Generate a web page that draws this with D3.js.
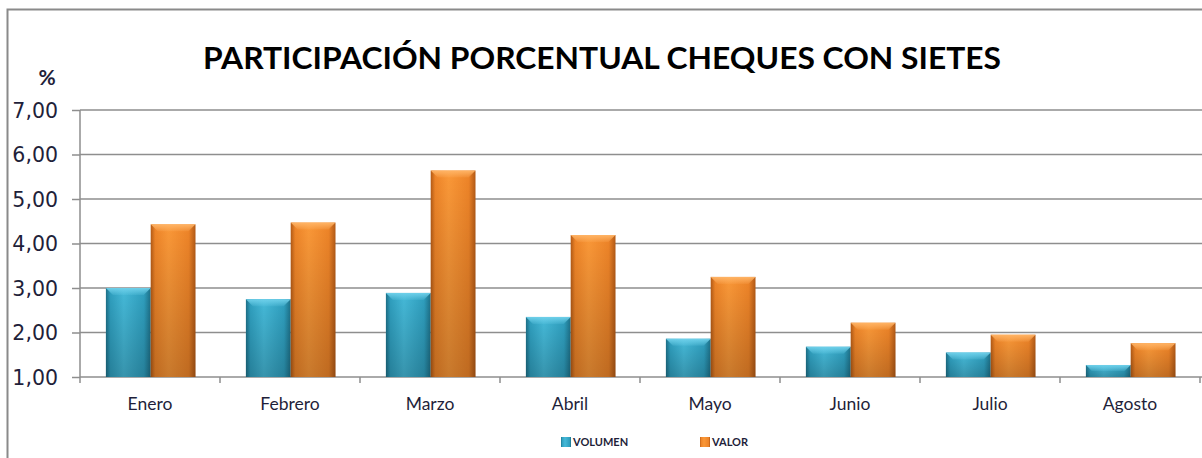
<!DOCTYPE html>
<html lang="es">
<head>
<meta charset="UTF-8">
<title>Participación porcentual cheques con sietes</title>
<script src="https://d3js.org/d3.v7.min.js"></script>
<style>
    body { margin: 0; background: #fff; }
    svg { display: block; }
</style>
</head>
<body>
<svg width="1202" height="458"></svg>
<script>
    // data
    const months = ["Enero", "Febrero", "Marzo", "Abril", "Mayo", "Junio", "Julio", "Agosto"];
    const series = ["VOLUMEN", "VALOR"];
    const volumen = [3.00, 2.75, 2.89, 2.35, 1.86, 1.68, 1.55, 1.27];
    const valor = [4.43, 4.47, 5.64, 4.19, 3.25, 2.22, 1.95, 1.76];
    const yTicks = [1, 2, 3, 4, 5, 6, 7];

    const rows = months.map((m, i) => ({ month: m, VOLUMEN: volumen[i], VALOR: valor[i] }));

    const svg = d3.select("svg");
    const W = 1202, H = 458;
    const plot = { left: 80, right: 1200, top: 110, bottom: 377 };

    const colors = {
        VOLUMEN: { light: "#45b9d8", mid: "#2f9fbf", dark: "#1d7088", top: "#6fd0ea" },
        VALOR: { light: "#fa9838", mid: "#ee8428", dark: "#b35a16", top: "#ffb466" }
    };

    // gradients
    const defs = svg.append("defs");
    series.forEach(s => {
        const c = colors[s];
        const h = defs.append("linearGradient").attr("id", "h-" + s)
            .attr("x1", 0).attr("x2", 1).attr("y1", 0).attr("y2", 0);
        h.append("stop").attr("offset", "0%").attr("stop-color", c.dark);
        h.append("stop").attr("offset", "10%").attr("stop-color", c.mid);
        h.append("stop").attr("offset", "40%").attr("stop-color", c.light);
        h.append("stop").attr("offset", "85%").attr("stop-color", c.mid);
        h.append("stop").attr("offset", "100%").attr("stop-color", c.dark);
        const v = defs.append("linearGradient").attr("id", "v-" + s)
            .attr("x1", 0).attr("x2", 0).attr("y1", 0).attr("y2", 1);
        v.append("stop").attr("offset", "0%").attr("stop-color", "#000").attr("stop-opacity", 0);
        v.append("stop").attr("offset", "100%").attr("stop-color", "#000").attr("stop-opacity", 0.2);
        const t = defs.append("linearGradient").attr("id", "t-" + s)
            .attr("x1", 0).attr("x2", 0).attr("y1", 0).attr("y2", 1);
        t.append("stop").attr("offset", "0%").attr("stop-color", c.top).attr("stop-opacity", 1);
        t.append("stop").attr("offset", "100%").attr("stop-color", c.top).attr("stop-opacity", 0.15);
    });

    // frame
    svg.append("path")
        .attr("d", `M7.5,${H} V9.5 H${W}`)
        .attr("fill", "none").attr("stroke", "#8a8a8a").attr("stroke-width", 2);

    const x0 = d3.scaleBand().domain(months).range([plot.left, plot.right]).padding(0);
    const x1 = d3.scaleBand().domain(series)
        .range([x0.bandwidth() * 0.185, x0.bandwidth() * 0.825]);
    const y = d3.scaleLinear().domain([1, 7]).range([plot.bottom, plot.top]);

    // gridlines
    svg.append("g")
        .selectAll("line")
        .data(yTicks.slice(1))
        .join("line")
        .attr("x1", plot.left).attr("x2", W)
        .attr("y1", d => y(d)).attr("y2", d => y(d))
        .attr("stroke", "#8e8e8e").attr("stroke-width", 1.5);

    // y axis
    const yAxis = svg.append("g")
        .attr("transform", `translate(${plot.left},0)`)
        .call(d3.axisLeft(y).tickValues(yTicks).tickSize(8).tickPadding(14)
            .tickFormat(d => d3.format(".2f")(d).replace(".", ",")));
    yAxis.select(".domain").attr("stroke", "#8e8e8e").attr("stroke-width", 1.5)
        .attr("d", `M0,${plot.bottom}V${plot.top}`);
    yAxis.selectAll(".tick line").attr("stroke", "#8e8e8e").attr("stroke-width", 1.5);
    yAxis.selectAll(".tick text")
        .attr("fill", "#1f1f3a")
        .style("font-family", "'DejaVu Sans', sans-serif")
        .style("font-size", "20.5px")
        .attr("dy", "0.36em");

    // x axis
    const xAxis = svg.append("g")
        .attr("transform", `translate(0,${plot.bottom})`)
        .call(d3.axisBottom(x0).tickSize(0).tickPadding(21));
    xAxis.select(".domain").attr("stroke", "#8e8e8e").attr("stroke-width", 1.5)
        .attr("d", `M${plot.left},0H${W}`);
    xAxis.selectAll(".tick text")
        .attr("fill", "#1f1f3a")
        .style("font-family", "Lato, sans-serif")
        .style("font-size", "17.5px");
    // tick marks at category boundaries
    const bounds = months.map(m => x0(m)).concat([plot.right]);
    xAxis.append("g")
        .selectAll("line")
        .data(bounds)
        .join("line")
        .attr("x1", d => d).attr("x2", d => d)
        .attr("y1", 0).attr("y2", 6)
        .attr("stroke", "#8e8e8e").attr("stroke-width", 1.5);

    // bars
    const bevel = 7;
    const groups = svg.append("g")
        .selectAll("g")
        .data(rows)
        .join("g")
        .attr("transform", d => `translate(${x0(d.month)},0)`);

    const bars = groups.selectAll("g")
        .data(d => series.map(s => ({ key: s, value: d[s] })))
        .join("g");

    bars.append("rect")
        .attr("x", d => x1(d.key))
        .attr("y", d => y(d.value))
        .attr("width", x1.bandwidth())
        .attr("height", d => y(1) - y(d.value))
        .attr("fill", d => `url(#h-${d.key})`);
    bars.append("rect")
        .attr("x", d => x1(d.key))
        .attr("y", d => y(d.value))
        .attr("width", x1.bandwidth())
        .attr("height", d => y(1) - y(d.value))
        .attr("fill", d => `url(#v-${d.key})`);
    bars.append("path")
        .attr("d", d => {
            const xa = x1(d.key), xb = xa + x1.bandwidth(), yt = y(d.value);
            const b = Math.min(bevel, (y(1) - yt) / 2);
            return `M${xa},${yt}H${xb}L${xb - b},${yt + b}H${xa + b}Z`;
        })
        .attr("fill", d => `url(#t-${d.key})`);

    // title
    svg.append("text")
        .attr("x", 602).attr("y", 69)
        .attr("text-anchor", "middle")
        .attr("textLength", 798)
        .attr("lengthAdjust", "spacingAndGlyphs")
        .style("font-family", "Lato, sans-serif")
        .style("font-weight", "bold")
        .style("font-size", "31px")
        .attr("fill", "#000")
        .text("PARTICIPACIÓN PORCENTUAL CHEQUES CON SIETES");

    svg.append("text")
        .attr("x", 47).attr("y", 85)
        .attr("text-anchor", "middle")
        .style("font-family", "Lato, sans-serif")
        .style("font-weight", "bold")
        .style("font-size", "21px")
        .attr("fill", "#1f1f3a")
        .text("%");

    // legend
    const legendX = [561, 700];
    const legend = svg.append("g")
        .selectAll("g")
        .data(series)
        .join("g")
        .attr("transform", (d, i) => `translate(${legendX[i]},442)`);
    legend.append("rect")
        .attr("x", 0).attr("y", -5).attr("width", 10).attr("height", 10)
        .attr("fill", d => `url(#h-${d})`);
    legend.append("text")
        .attr("x", 12).attr("y", 4)
        .style("font-family", "Lato, sans-serif")
        .style("font-size", "11px")
        .style("font-weight", "bold")
        .attr("fill", "#1f1f3a")
        .text(d => d);
</script>
</body>
</html>
